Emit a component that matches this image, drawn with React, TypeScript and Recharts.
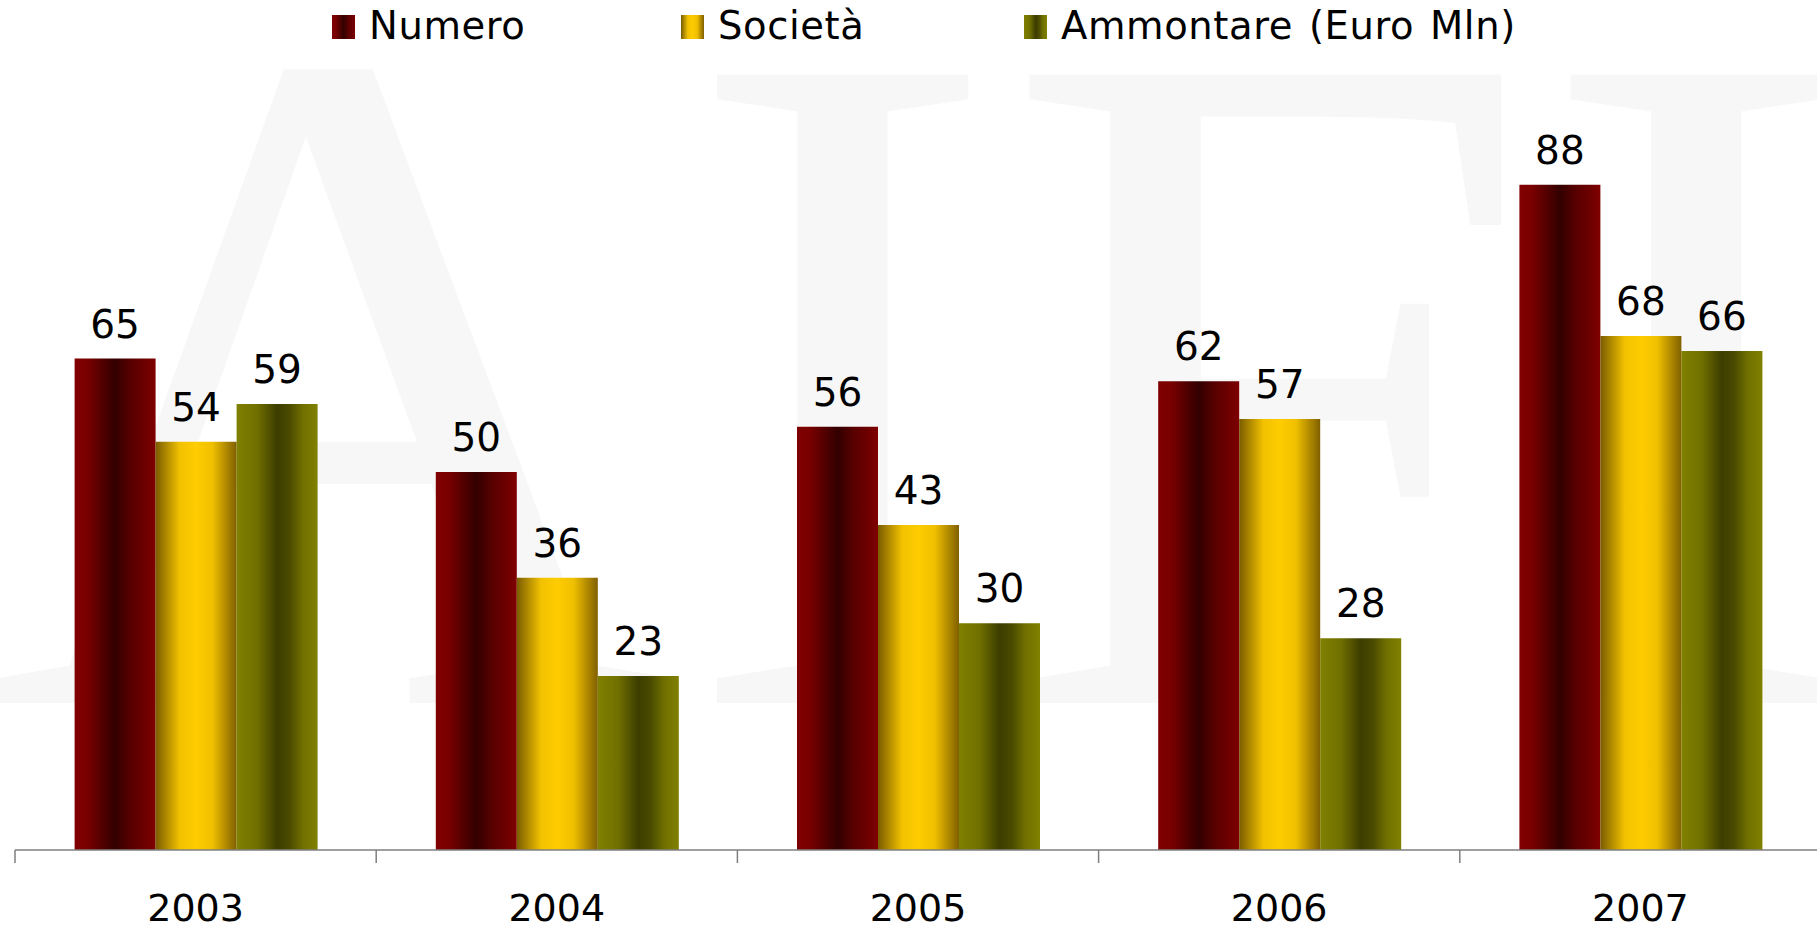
import React from 'react';
import { BarChart, Bar, XAxis, YAxis, LabelList } from 'recharts';

// ---- data ----
const YEARS = ['2003', '2004', '2005', '2006', '2007'];
const NUMERO = [65, 50, 56, 62, 88];
const SOCIETA = [54, 36, 43, 57, 68];
const AMMONTARE = [59, 23, 30, 28, 66];
const SERIES_NAMES = ['Numero', 'Società', 'Ammontare (Euro Mln)'];

const data = YEARS.map((year, i) => ({
  year,
  numero: NUMERO[i],
  societa: SOCIETA[i],
  ammontare: AMMONTARE[i],
}));

// ---- layout ----
const W = 1817;
const H = 927;
const CHART_W = 1821;
const M_LEFT = 15;
const M_TOP = 94;
const AXIS_H = 77;
const BAND = (CHART_W - M_LEFT) / YEARS.length;
const FONT = '"DejaVu Sans", Verdana, sans-serif';

const SERIES = [
  { key: 'numero', name: SERIES_NAMES[0], grad: 'gNumero' },
  { key: 'societa', name: SERIES_NAMES[1], grad: 'gSocieta' },
  { key: 'ammontare', name: SERIES_NAMES[2], grad: 'gAmmontare' },
];
const LEGEND_X = [332, 681, 1024];

const Gradients = () => (
  <defs>
    <linearGradient id="gNumero" x1="0" y1="0" x2="1" y2="0">
      <stop offset="0" stopColor="#800000" />
      <stop offset="0.15" stopColor="#7a0000" />
      <stop offset="0.5" stopColor="#330000" />
      <stop offset="0.72" stopColor="#5c0000" />
      <stop offset="0.88" stopColor="#6e0000" />
      <stop offset="1" stopColor="#800000" />
    </linearGradient>
    <linearGradient id="gSocieta" x1="0" y1="0" x2="1" y2="0">
      <stop offset="0" stopColor="#7a5c00" />
      <stop offset="0.3" stopColor="#f2c200" />
      <stop offset="0.5" stopColor="#ffcc00" />
      <stop offset="0.7" stopColor="#f0c000" />
      <stop offset="1" stopColor="#806000" />
    </linearGradient>
    <linearGradient id="gAmmontare" x1="0" y1="0" x2="1" y2="0">
      <stop offset="0" stopColor="#808000" />
      <stop offset="0.25" stopColor="#707000" />
      <stop offset="0.5" stopColor="#3d3d00" />
      <stop offset="0.65" stopColor="#4a4a00" />
      <stop offset="0.82" stopColor="#707000" />
      <stop offset="1" stopColor="#808000" />
    </linearGradient>
  </defs>
);

const YearTick = (props: any) => {
  const { x, y, payload } = props;
  const half = BAND / 2;
  return (
    <g>
      <line x1={x - half} x2={x - half} y1={y} y2={y + 13} stroke="#7f7f7f" strokeWidth={1.5} />
      <text x={x} y={y + 71} textAnchor="middle" fontSize={38} fontFamily={FONT} fill="#000">
        {payload.value}
      </text>
    </g>
  );
};

export default function App() {
  return (
    <div
      style={{
        position: 'absolute',
        left: 0,
        top: 0,
        width: W,
        height: H,
        overflow: 'hidden',
        background: '#ffffff',
      }}
    >
      {/* watermark */}
      <svg width={W} height={H} style={{ position: 'absolute', left: 0, top: 0 }}>
        <text x={-11} y={703} fontSize={960} fontFamily='"Liberation Serif", "Times New Roman", serif' fill="#f7f7f7">
          AIFI
        </text>
      </svg>

      <div style={{ position: 'absolute', left: 0, top: 0 }}>
        <BarChart
          width={CHART_W}
          height={H}
          data={data}
          margin={{ top: M_TOP, right: 0, left: M_LEFT, bottom: 0 }}
          barCategoryGap="16.5%"
          barGap={0}
        >
          <Gradients />
          <YAxis hide domain={[0, 100]} />
          <XAxis
            dataKey="year"
            height={AXIS_H}
            tickLine={false}
            tickSize={0}
            tickMargin={0}
            axisLine={{ stroke: '#7f7f7f', strokeWidth: 1.5 }}
            tick={YearTick}
            interval={0}
          />
          {SERIES.map((s) => (
            <Bar key={s.key} dataKey={s.key} name={s.name} fill={`url(#${s.grad})`} isAnimationActive={false}>
              <LabelList
                dataKey={s.key}
                position="top"
                offset={21}
                fill="#000"
                fontSize={39}
                fontFamily={FONT}
              />
            </Bar>
          ))}
        </BarChart>
      </div>

      {/* legend */}
      <svg width={W} height={60} style={{ position: 'absolute', left: 0, top: 0 }}>
        <Gradients />
        {SERIES.map((s, i) => (
          <g key={s.key}>
            <rect x={LEGEND_X[i]} y={15} width={23} height={24} fill={`url(#${s.grad})`} />
            <text
              x={LEGEND_X[i] + 37}
              y={39}
              fontSize={38.5}
              letterSpacing={0.6}
              wordSpacing={3}
              fontFamily={FONT}
              fill="#000"
            >
              {s.name}
            </text>
          </g>
        ))}
      </svg>
    </div>
  );
}
